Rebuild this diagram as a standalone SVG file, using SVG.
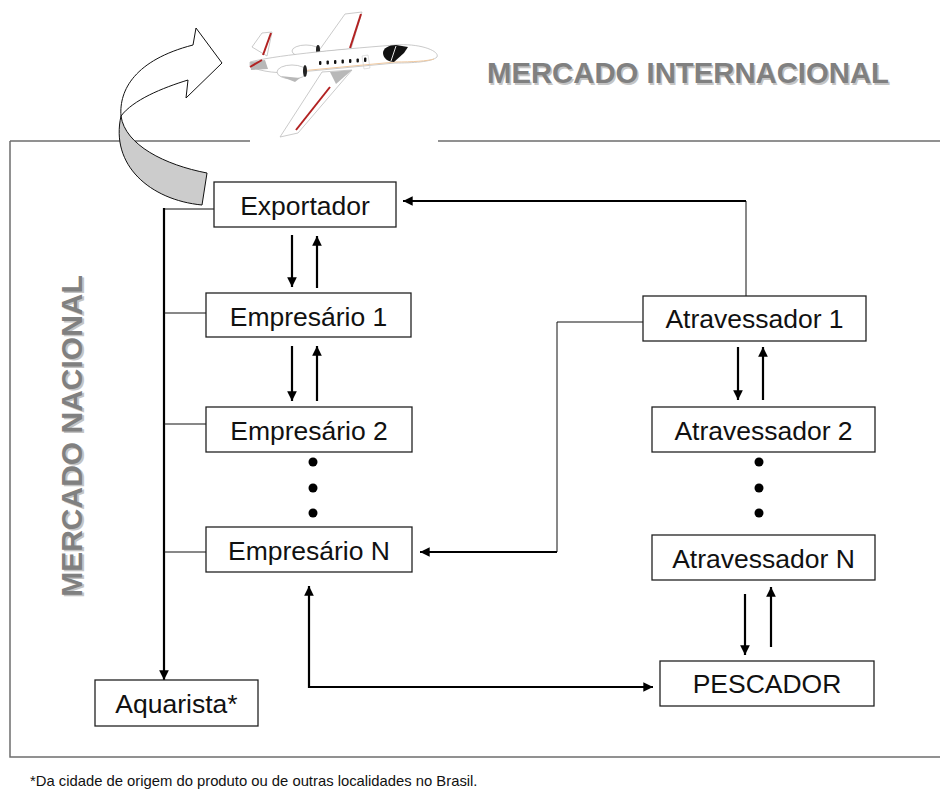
<svg xmlns="http://www.w3.org/2000/svg" width="940" height="789" viewBox="0 0 940 789">
  <style>
    .box { fill: #ffffff; stroke: #222222; stroke-width: 1.3; }
    .lbl { font-family: "Liberation Sans", Arial, sans-serif; font-size: 26.5px; fill: #111111; text-anchor: middle; }
    .thin { fill: none; stroke: #111111; stroke-width: 1; }
    .thick { fill: none; stroke: #000000; stroke-width: 2.2; }
    .frame { fill: none; stroke: #6e6e6e; stroke-width: 1.5; }
    .title { font-family: "Liberation Sans", Arial, sans-serif; font-weight: bold; }
    .dot { fill: #000000; }
  </style>
  <defs>
    <marker id="ah" viewBox="0 0 10 10" refX="10" refY="5" markerWidth="4.4" markerHeight="4.4" orient="auto-start-reverse" markerUnits="strokeWidth">
      <path d="M0,0 L10,5 L0,10 Z" fill="#000000"/>
    </marker>
  </defs>

  <rect width="940" height="789" fill="#ffffff"/>

  <!-- outer frame of the national market -->
  <g id="frame">
    <path class="frame" d="M10,141 H250 M438,141 H940 M10,141 V757 H940"/>
  </g>

  <!-- region titles -->
  <g id="title-internacional" font-size="29.3">
    <text class="title" x="488.5" y="84.5" fill="#c4c4c4">MERCADO INTERNACIONAL</text>
    <text class="title" x="487" y="83" fill="#808080">MERCADO INTERNACIONAL</text>
  </g>
  <g id="title-nacional" font-size="30">
    <text class="title" transform="translate(83.5,437.5) rotate(-90)" text-anchor="middle" fill="#c4c4c4">MERCADO NACIONAL</text>
    <text class="title" transform="translate(82,436) rotate(-90)" text-anchor="middle" fill="#808080">MERCADO NACIONAL</text>
  </g>

  <!-- curved export arrow -->
  <g id="export-arrow" stroke="#111111" stroke-width="1" stroke-linejoin="round">
    <path d="M121,116 C125,145 165,165 207,173 L202,205 C150,200 110,165 121,116 Z" fill="#cccccc"/>
    <path d="M193,45 L196,28 L222,63 L186,98 L188,80 C162,88 133,100 121,116 C119,90 135,60 193,45 Z" fill="#ffffff"/>
  </g>

  <!-- jet airplane -->
  <g id="airplane" stroke-linejoin="round">
    <!-- upper (far) wing -->
    <path d="M318,52 L345,14 L362,12 L351,49 Z" fill="#ffffff" stroke="#bdbdbd" stroke-width="0.8"/>
    <path d="M361,14 L350,48" stroke="#b22222" stroke-width="2"/>
    <!-- tail fin -->
    <path d="M252,47 L262,33 L272,32 L267,56 Z" fill="#ffffff" stroke="#bdbdbd" stroke-width="0.8"/>
    <path d="M271,33 L263,55" stroke="#b22222" stroke-width="2"/>
    <!-- upper engine -->
    <ellipse cx="306" cy="51" rx="14" ry="6" fill="#ffffff" stroke="#bdbdbd" stroke-width="0.8"/>
    <ellipse cx="318" cy="50" rx="2" ry="5" fill="#222222"/>
    <!-- fuselage -->
    <path d="M250,62 C272,56 330,50 395,45 C420,43 440,51 437,57 C432,62 412,63 395,63 L300,72 C280,74 260,72 250,66 Z" fill="#ffffff" stroke="#bdbdbd" stroke-width="0.8"/>
    <path d="M300,71 L395,62 C412,62 428,61 434,59" fill="none" stroke="#f0c9a0" stroke-width="1"/>
    <!-- horizontal stabiliser -->
    <path d="M250,62 L265,60 L268,69 L251,70 Z" fill="#b8b8b8"/>
    <path d="M250,67 L262,60" stroke="#b22222" stroke-width="2"/>
    <!-- lower (near) wing -->
    <path d="M322,72 L352,70 L298,133 L280,137 Z" fill="#ffffff" stroke="#bdbdbd" stroke-width="0.8"/>
    <path d="M330,72 L352,70 L336,84 Z" fill="#b8b8b8"/>
    <path d="M330,87 L296,130" stroke="#b22222" stroke-width="2"/>
    <!-- lower engine -->
    <ellipse cx="292" cy="72" rx="15" ry="7" fill="#ffffff" stroke="#bdbdbd" stroke-width="0.8"/>
    <path d="M280,76 L300,78 L295,82 Z" fill="#b8b8b8"/>
    <ellipse cx="305" cy="71" rx="2" ry="6" fill="#222222"/>
    <!-- cabin windows -->
    <g fill="#111111">
      <rect x="319" y="61" width="2.4" height="4" rx="1"/>
      <rect x="326.5" y="60.5" width="2.4" height="4" rx="1"/>
      <rect x="334" y="60" width="2.4" height="4" rx="1"/>
      <rect x="341.5" y="59.5" width="2.4" height="4" rx="1"/>
      <rect x="349" y="59" width="2.4" height="4" rx="1"/>
      <rect x="356.5" y="58.5" width="2.4" height="4" rx="1"/>
      <rect x="364" y="57.5" width="2.4" height="4.5" rx="1"/>
    </g>
    <!-- door outline -->
    <path d="M362,56 L368,55 L370,68 L364,69 Z" fill="none" stroke="#cccccc" stroke-width="0.6"/>
    <!-- cockpit -->
    <path d="M383,53 C383,48 389,45 396,45 L408,47 L404,53 L394,62 C388,62 383,58 383,53 Z" fill="#111111"/>
    <path d="M396,46 L391,61" stroke="#ffffff" stroke-width="0.9"/>
  </g>

  <!-- connectors -->
  <g id="connectors">
    <!-- distribution trunk to Aquarista -->
    <path class="thin" d="M214,209 H164"/>
    <path class="thick" d="M164,208 V680" marker-end="url(#ah)"/>
    <path class="thin" d="M164,313 H206 M164,424 H206 M164,552 H206"/>
    <!-- Exportador / Empresário 1 -->
    <path class="thick" d="M292,235 V287" marker-end="url(#ah)"/>
    <path class="thick" d="M317,288 V236" marker-end="url(#ah)"/>
    <!-- Empresário 1 / Empresário 2 -->
    <path class="thick" d="M292,346 V401" marker-end="url(#ah)"/>
    <path class="thick" d="M317,401 V346" marker-end="url(#ah)"/>
    <!-- Atravessador 1 to Exportador -->
    <path class="thin" d="M746,296 V201"/>
    <path class="thick" d="M746,201 H403" marker-end="url(#ah)"/>
    <!-- Atravessador 1 to Empresário N -->
    <path class="thin" d="M643,322 H557 V552"/>
    <path class="thick" d="M557,552 H420" marker-end="url(#ah)"/>
    <!-- Atravessador 1 / Atravessador 2 -->
    <path class="thick" d="M738,347 V400" marker-end="url(#ah)"/>
    <path class="thick" d="M763,400 V347" marker-end="url(#ah)"/>
    <!-- Atravessador N / PESCADOR -->
    <path class="thick" d="M745,594 V655" marker-end="url(#ah)"/>
    <path class="thick" d="M771,647 V587" marker-end="url(#ah)"/>
    <!-- Empresário N / PESCADOR -->
    <path class="thick" d="M309,586 V687 H653" marker-start="url(#ah)" marker-end="url(#ah)"/>
  </g>

  <!-- ellipsis dots -->
  <g id="dots-empresario">
    <circle class="dot" cx="313" cy="462" r="4.5"/>
    <circle class="dot" cx="313" cy="488" r="4.5"/>
    <circle class="dot" cx="313" cy="513" r="4.5"/>
  </g>
  <g id="dots-atravessador">
    <circle class="dot" cx="759" cy="462" r="4.5"/>
    <circle class="dot" cx="759" cy="488" r="4.5"/>
    <circle class="dot" cx="759" cy="513" r="4.5"/>
  </g>

  <!-- nodes -->
  <g id="exportador">
    <rect class="box" x="214" y="182" width="182" height="45"/>
    <text class="lbl" x="305" y="215">Exportador</text>
  </g>
  <g id="empresario-1">
    <rect class="box" x="206" y="293" width="205" height="44"/>
    <text class="lbl" x="308.5" y="325.5">Empresário 1</text>
  </g>
  <g id="empresario-2">
    <rect class="box" x="206" y="407" width="206" height="45"/>
    <text class="lbl" x="309" y="440">Empresário 2</text>
  </g>
  <g id="empresario-n">
    <rect class="box" x="206" y="527" width="206" height="45"/>
    <text class="lbl" x="309" y="560">Empresário N</text>
  </g>
  <g id="atravessador-1">
    <rect class="box" x="643" y="296" width="223" height="45"/>
    <text class="lbl" x="754.5" y="328">Atravessador 1</text>
  </g>
  <g id="atravessador-2">
    <rect class="box" x="652" y="407" width="223" height="45"/>
    <text class="lbl" x="763.5" y="439.5">Atravessador 2</text>
  </g>
  <g id="atravessador-n">
    <rect class="box" x="652" y="535" width="223" height="45"/>
    <text class="lbl" x="763.5" y="568">Atravessador N</text>
  </g>
  <g id="pescador">
    <rect class="box" x="660" y="661" width="214" height="45"/>
    <text class="lbl" x="767" y="693">PESCADOR</text>
  </g>
  <g id="aquarista">
    <rect class="box" x="95" y="680" width="163" height="46"/>
    <text class="lbl" x="176.5" y="713">Aquarista*</text>
  </g>

  <!-- footnote -->
  <text x="30" y="786" font-family="'Liberation Sans', Arial, sans-serif" font-size="14.8" fill="#111111">*Da cidade de origem do produto ou de outras localidades no Brasil.</text>
</svg>
